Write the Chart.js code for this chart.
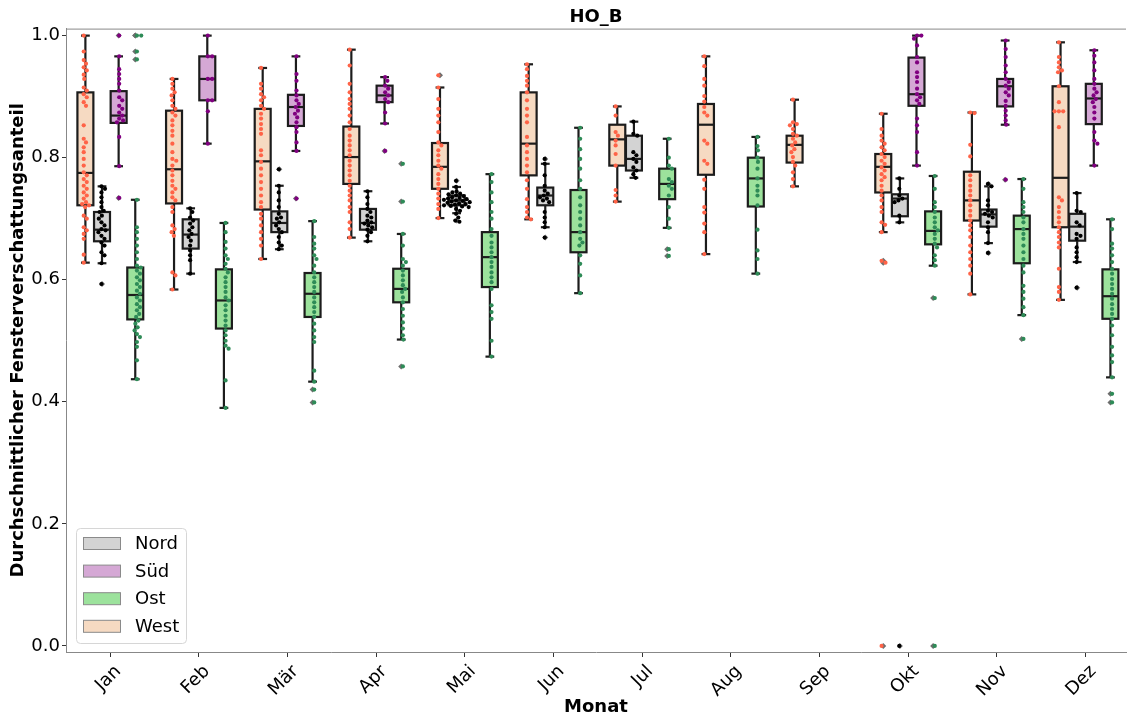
<!DOCTYPE html>
<html lang="de">
<head>
<meta charset="utf-8">
<title>HO_B</title>
<script src="https://cdn.jsdelivr.net/npm/chart.js@4.4.1/dist/chart.umd.min.js"></script>
<style>
  html, body { margin: 0; padding: 0; background: #fff; overflow: hidden; }
</style>
</head>
<body>
<canvas id="grafico" width="1129" height="716"></canvas>
<script>
// Boxplot + Swarm: Fensterverschattung je Monat und Orientierung

const monate = ['Jan', 'Feb', 'Mär', 'Apr', 'Mai', 'Jun', 'Jul', 'Aug', 'Sep', 'Okt', 'Nov', 'Dez'];
const yTicks = [0, 0.2, 0.4, 0.6, 0.8, 1.0];
const legendeReihenfolge = ['Nord', 'Süd', 'Ost', 'West'];

// Boxen: [unterer Whisker, Q1, Median, Q3, oberer Whisker], null = keine Daten
const westBox = [
  [0.628, 0.722, 0.775, 0.907, 1.0], [0.584, 0.725, 0.781, 0.877, 0.929], [0.634, 0.715, 0.794, 0.880, 0.947],
  [0.669, 0.757, 0.801, 0.851, 0.977], [0.701, 0.749, 0.785, 0.824, 0.915], [0.699, 0.771, 0.823, 0.907, 0.953],
  [0.728, 0.787, 0.830, 0.854, 0.884], [0.642, 0.772, 0.854, 0.888, 0.966], [0.753, 0.792, 0.821, 0.836, 0.895],
  [0.678, 0.743, 0.785, 0.806, 0.872], [0.576, 0.697, 0.730, 0.777, 0.874], [0.567, 0.686, 0.767, 0.917, 0.989]
];
const nordBox = [
  [0.627, 0.663, 0.682, 0.711, 0.753], [0.610, 0.651, 0.674, 0.699, 0.717], [0.650, 0.678, 0.693, 0.712, 0.754],
  [0.663, 0.682, 0.693, 0.716, 0.745], [0.709, 0.722, 0.730, 0.738, 0.752], [0.686, 0.722, 0.738, 0.751, 0.790],
  [0.767, 0.779, 0.798, 0.836, 0.859], null, null,
  [0.694, 0.704, 0.733, 0.740, 0.766], [0.660, 0.687, 0.707, 0.715, 0.753], [0.629, 0.664, 0.687, 0.708, 0.742]
];
const suedBox = [
  [0.786, 0.857, 0.869, 0.909, 0.966], [0.823, 0.894, 0.929, 0.966, 1.0], [0.811, 0.852, 0.883, 0.903, 0.966],
  [0.856, 0.891, 0.902, 0.918, 0.932], null, null, null, null, null,
  [0.787, 0.885, 0.904, 0.964, 1.0], [0.854, 0.884, 0.917, 0.929, 0.992], [0.787, 0.855, 0.897, 0.921, 0.976]
];
const ostBox = [
  [0.437, 0.535, 0.575, 0.620, 0.731], [0.390, 0.520, 0.566, 0.617, 0.693], [0.433, 0.539, 0.577, 0.611, 0.696],
  [0.502, 0.563, 0.585, 0.618, 0.675], [0.474, 0.588, 0.637, 0.678, 0.773], [0.578, 0.645, 0.678, 0.747, 0.849],
  [0.685, 0.732, 0.757, 0.782, 0.831], [0.610, 0.720, 0.766, 0.800, 0.834], null,
  [0.623, 0.658, 0.680, 0.712, 0.770], [0.542, 0.627, 0.683, 0.705, 0.765], [0.440, 0.536, 0.573, 0.617, 0.699]
];

// Ausreißer (Fliers) je Monat
const westAus = [[], [], [], [], [0.935], [], [], [], [], [0.631, 0.628, 0.0], [], []];
const nordAus = [[0.593], [], [0.781], [], [0.762, 0.697], [0.798, 0.669], [], [], [], [0.0], [0.757, 0.644], [0.587]];
const suedAus = [[1.0, 0.734], [], [0.733], [0.811], [], [], [], [], [], [], [0.764], []];
const ostAus = [[1.0, 1.0, 0.974, 0.961], [], [0.420, 0.399], [0.790, 0.728, 0.458], [], [], [0.650, 0.639], [], [], [0.570, 0.0], [0.503], [0.413, 0.399]];

// Einzelwerte (Swarm-Punkte) je Monat
const westWerte = [
  [1.0, 0.974, 0.96, 0.954, 0.948, 0.943, 0.936, 0.929, 0.915, 0.91, 0.904, 0.899, 0.891, 0.885, 0.853, 0.831, 0.825, 0.817, 0.809, 0.798, 0.787, 0.776, 0.771, 0.765, 0.76, 0.754, 0.749, 0.743, 0.738, 0.733, 0.727, 0.724, 0.722, 0.719, 0.705, 0.7, 0.686, 0.681, 0.675, 0.667, 0.641, 0.628],
  [0.929, 0.921, 0.913, 0.907, 0.902, 0.894, 0.885, 0.88, 0.874, 0.869, 0.861, 0.853, 0.844, 0.836, 0.823, 0.809, 0.798, 0.795, 0.787, 0.779, 0.771, 0.762, 0.754, 0.749, 0.743, 0.735, 0.73, 0.719, 0.711, 0.689, 0.683, 0.678, 0.672, 0.612, 0.607, 0.584],
  [0.947, 0.921, 0.913, 0.904, 0.899, 0.894, 0.885, 0.88, 0.872, 0.864, 0.855, 0.847, 0.839, 0.812, 0.804, 0.793, 0.782, 0.771, 0.76, 0.749, 0.738, 0.727, 0.719, 0.708, 0.7, 0.689, 0.678, 0.667, 0.656, 0.634],
  [0.977, 0.951, 0.921, 0.907, 0.896, 0.888, 0.88, 0.869, 0.858, 0.847, 0.836, 0.828, 0.82, 0.812, 0.804, 0.795, 0.787, 0.779, 0.771, 0.762, 0.754, 0.746, 0.738, 0.73, 0.719, 0.711, 0.694, 0.683, 0.669],
  [0.935, 0.915, 0.896, 0.88, 0.869, 0.858, 0.842, 0.825, 0.82, 0.812, 0.804, 0.795, 0.787, 0.782, 0.773, 0.765, 0.757, 0.749, 0.741, 0.733, 0.724, 0.716, 0.701],
  [0.953, 0.945, 0.934, 0.926, 0.918, 0.907, 0.894, 0.88, 0.869, 0.858, 0.834, 0.82, 0.809, 0.798, 0.787, 0.776, 0.763, 0.749, 0.732, 0.719, 0.711, 0.702, 0.699],
  [0.884, 0.869, 0.842, 0.836, 0.828, 0.82, 0.806, 0.787, 0.747, 0.738, 0.728],
  [0.966, 0.95, 0.929, 0.918, 0.901, 0.892, 0.883, 0.874, 0.869, 0.828, 0.823, 0.795, 0.79, 0.764, 0.749, 0.719, 0.71, 0.692, 0.678, 0.642],
  [0.895, 0.858, 0.855, 0.853, 0.847, 0.839, 0.836, 0.831, 0.825, 0.82, 0.814, 0.809, 0.801, 0.793, 0.787, 0.776, 0.765, 0.753],
  [0.872, 0.847, 0.836, 0.828, 0.823, 0.817, 0.812, 0.806, 0.801, 0.795, 0.79, 0.784, 0.779, 0.773, 0.768, 0.763, 0.754, 0.746, 0.738, 0.73, 0.719, 0.711, 0.694, 0.69, 0.678, 0.631, 0.628, 0.0],
  [0.874, 0.873, 0.821, 0.802, 0.771, 0.763, 0.754, 0.746, 0.738, 0.73, 0.722, 0.713, 0.705, 0.697, 0.689, 0.681, 0.67, 0.656, 0.645, 0.634, 0.623, 0.61, 0.576],
  [0.989, 0.965, 0.956, 0.948, 0.943, 0.94, 0.917, 0.891, 0.876, 0.876, 0.876, 0.85, 0.735, 0.73, 0.719, 0.711, 0.702, 0.694, 0.686, 0.678, 0.67, 0.661, 0.653, 0.618, 0.588, 0.58, 0.567]
];
const nordWerte = [
  [0.753, 0.749, 0.743, 0.735, 0.727, 0.719, 0.713, 0.711, 0.705, 0.7, 0.694, 0.689, 0.683, 0.681, 0.678, 0.672, 0.667, 0.661, 0.656, 0.645, 0.64, 0.627, 0.593],
  [0.717, 0.711, 0.702, 0.697, 0.692, 0.686, 0.681, 0.675, 0.67, 0.664, 0.656, 0.648, 0.64, 0.632, 0.61],
  [0.781, 0.754, 0.743, 0.73, 0.719, 0.708, 0.702, 0.7, 0.694, 0.689, 0.683, 0.678, 0.67, 0.661, 0.656, 0.65],
  [0.745, 0.735, 0.724, 0.716, 0.711, 0.705, 0.702, 0.697, 0.694, 0.692, 0.689, 0.686, 0.682, 0.678, 0.672, 0.663],
  [0.762, 0.752, 0.745, 0.743, 0.741, 0.74, 0.738, 0.737, 0.735, 0.734, 0.733, 0.732, 0.731, 0.73, 0.729, 0.728, 0.727, 0.726, 0.725, 0.724, 0.723, 0.722, 0.721, 0.72, 0.719, 0.716, 0.713, 0.708, 0.702, 0.697, 0.695],
  [0.798, 0.79, 0.771, 0.754, 0.746, 0.741, 0.738, 0.735, 0.733, 0.73, 0.727, 0.711, 0.702, 0.694, 0.686, 0.669],
  [0.859, 0.839, 0.836, 0.809, 0.804, 0.798, 0.793, 0.784, 0.779, 0.773, 0.767],
  [], [],
  [0.766, 0.749, 0.738, 0.733, 0.73, 0.727, 0.705, 0.694, 0.0],
  [0.757, 0.753, 0.73, 0.722, 0.713, 0.711, 0.708, 0.705, 0.702, 0.694, 0.686, 0.678, 0.66, 0.644],
  [0.742, 0.713, 0.711, 0.694, 0.689, 0.675, 0.672, 0.667, 0.653, 0.645, 0.637, 0.629, 0.587]
];
const suedWerte = [
  [1.0, 0.966, 0.945, 0.937, 0.929, 0.921, 0.91, 0.899, 0.894, 0.885, 0.88, 0.874, 0.869, 0.864, 0.861, 0.858, 0.834, 0.786, 0.734],
  [1.0, 0.966, 0.966, 0.929, 0.929, 0.894, 0.894, 0.876, 0.823],
  [0.966, 0.937, 0.926, 0.91, 0.902, 0.894, 0.888, 0.883, 0.877, 0.872, 0.866, 0.858, 0.85, 0.842, 0.825, 0.811, 0.733],
  [0.932, 0.926, 0.918, 0.913, 0.907, 0.902, 0.896, 0.891, 0.874, 0.856, 0.811],
  [], [], [], [], [],
  [1.0, 1.0, 0.995, 0.984, 0.965, 0.956, 0.94, 0.932, 0.924, 0.913, 0.904, 0.899, 0.894, 0.888, 0.864, 0.853, 0.842, 0.809, 0.787],
  [0.992, 0.978, 0.965, 0.951, 0.94, 0.929, 0.924, 0.918, 0.913, 0.907, 0.902, 0.893, 0.885, 0.877, 0.869, 0.861, 0.854, 0.764],
  [0.976, 0.967, 0.956, 0.943, 0.929, 0.921, 0.913, 0.907, 0.902, 0.896, 0.891, 0.883, 0.874, 0.864, 0.842, 0.828, 0.823, 0.787]
];
const ostWerte = [
  [1.0, 1.0, 0.974, 0.961, 0.731, 0.686, 0.678, 0.667, 0.656, 0.645, 0.634, 0.623, 0.62, 0.615, 0.61, 0.604, 0.599, 0.593, 0.588, 0.582, 0.577, 0.571, 0.566, 0.56, 0.555, 0.55, 0.544, 0.539, 0.533, 0.528, 0.522, 0.517, 0.511, 0.506, 0.498, 0.49, 0.468, 0.437],
  [0.693, 0.678, 0.662, 0.651, 0.64, 0.634, 0.626, 0.618, 0.612, 0.604, 0.596, 0.588, 0.58, 0.571, 0.566, 0.558, 0.55, 0.541, 0.533, 0.525, 0.517, 0.509, 0.5, 0.492, 0.487, 0.435, 0.39],
  [0.696, 0.67, 0.659, 0.651, 0.64, 0.634, 0.623, 0.612, 0.604, 0.596, 0.588, 0.58, 0.571, 0.563, 0.555, 0.547, 0.539, 0.528, 0.517, 0.506, 0.498, 0.451, 0.433, 0.42, 0.399],
  [0.79, 0.728, 0.675, 0.656, 0.634, 0.629, 0.623, 0.615, 0.607, 0.599, 0.591, 0.585, 0.58, 0.571, 0.563, 0.552, 0.541, 0.53, 0.52, 0.509, 0.502, 0.458],
  [0.773, 0.76, 0.743, 0.727, 0.711, 0.7, 0.683, 0.672, 0.661, 0.653, 0.645, 0.637, 0.629, 0.621, 0.612, 0.604, 0.596, 0.585, 0.558, 0.547, 0.536, 0.5, 0.474],
  [0.849, 0.831, 0.814, 0.798, 0.782, 0.763, 0.749, 0.735, 0.722, 0.711, 0.7, 0.689, 0.678, 0.667, 0.661, 0.656, 0.64, 0.626, 0.607, 0.578],
  [0.831, 0.8, 0.787, 0.782, 0.765, 0.76, 0.754, 0.749, 0.738, 0.719, 0.7, 0.685, 0.65, 0.639],
  [0.834, 0.819, 0.812, 0.8, 0.793, 0.782, 0.766, 0.754, 0.746, 0.738, 0.722, 0.682, 0.648, 0.634, 0.61],
  [],
  [0.77, 0.749, 0.727, 0.719, 0.711, 0.702, 0.694, 0.686, 0.681, 0.675, 0.667, 0.659, 0.653, 0.64, 0.632, 0.623, 0.57, 0.0],
  [0.765, 0.749, 0.727, 0.719, 0.711, 0.702, 0.694, 0.683, 0.675, 0.667, 0.656, 0.645, 0.634, 0.623, 0.612, 0.59, 0.58, 0.569, 0.555, 0.542, 0.503],
  [0.699, 0.683, 0.659, 0.651, 0.64, 0.629, 0.618, 0.61, 0.601, 0.593, 0.585, 0.577, 0.569, 0.56, 0.552, 0.544, 0.536, 0.525, 0.509, 0.49, 0.476, 0.465, 0.44, 0.413, 0.399]
];

// Stil je Orientierung (Reihenfolge der Boxen im Monat: West, Nord, Süd, Ost)
const orientierungen = [
  { name: 'West', box: westBox, aus: westAus, werte: westWerte, fuellung: '#f6dac2', punkt: '#ff6347' },
  { name: 'Nord', box: nordBox, aus: nordAus, werte: nordWerte, fuellung: '#d3d3d3', punkt: '#000000' },
  { name: 'Süd', box: suedBox, aus: suedAus, werte: suedWerte, fuellung: '#d5a8d5', punkt: '#800080' },
  { name: 'Ost', box: ostBox, aus: ostAus, werte: ostWerte, fuellung: '#9ce29c', punkt: '#2e8b57' }
];
const boxVersatz = [-0.28125, -0.09375, 0.09375, 0.28125];
const punktVersatz = [-0.3, -0.1, 0.1, 0.3];
const boxBreite = 0.18;
const linie = '#1c1c1c';

Chart.defaults.font.family = "'DejaVu Sans', sans-serif";
Chart.defaults.color = '#000';

// Datensätze: Swarm-Punkte je Orientierung + Ausreißer-Rauten
const datensaetze = orientierungen.map((o, k) => {
  const daten = [];
  o.werte.forEach((liste, i) => liste.forEach(v => daten.push({ x: i + punktVersatz[k], y: v })));
  return {
    label: o.name, data: daten, swarm: true, order: 1,
    backgroundColor: o.punkt, pointRadius: 2.1, pointBorderWidth: 0, pointHoverRadius: 0
  };
});
const fliers = [];
orientierungen.forEach((o, k) => o.aus.forEach((liste, i) => liste.forEach(v => fliers.push({ x: i + boxVersatz[k], y: v }))));
datensaetze.push({
  label: 'Ausreißer', data: fliers, order: 9, pointStyle: 'rectRot',
  backgroundColor: '#6e6e6e', pointRadius: 3, pointBorderWidth: 0, pointHoverRadius: 0
});

// Beeswarm-Anordnung in Pixeln (nur horizontale Verschiebung)
function swarmGruppe(els, d) {
  const sortiert = els.slice().sort((a, b) => a.el.y - b.el.y);
  const gesetzt = [];
  sortiert.forEach(({ el, basis }) => {
    const nah = gesetzt.filter(p => Math.abs(p.y - el.y) < d);
    const kand = [0];
    nah.forEach(p => {
      const dx = Math.sqrt(d * d - (p.y - el.y) ** 2);
      kand.push(p.off + dx, p.off - dx);
    });
    kand.sort((a, b) => Math.abs(a) - Math.abs(b));
    let off = 0;
    for (const c of kand) {
      if (nah.every(p => (p.off - c) ** 2 + (p.y - el.y) ** 2 >= d * d - 0.01)) { off = c; break; }
    }
    gesetzt.push({ off, y: el.y });
    el.x = basis + off;
  });
}

const swarmPlugin = {
  id: 'swarm',
  afterDatasetsUpdate(chart) {
    const xs = chart.scales.x;
    chart.data.datasets.forEach((ds, di) => {
      if (!ds.swarm) return;
      const gruppen = {};
      chart.getDatasetMeta(di).data.forEach((el, j) => {
        const key = ds.data[j].x;
        (gruppen[key] = gruppen[key] || []).push({ el, basis: xs.getPixelForValue(key) });
      });
      Object.values(gruppen).forEach(g => swarmGruppe(g, 4.3));
    });
  }
};

const boxPlugin = {
  id: 'boxen',
  beforeDatasetsDraw(chart) {
    const { ctx, scales: { x, y } } = chart;
    const halb = (x.getPixelForValue(boxBreite) - x.getPixelForValue(0)) / 2;
    const strich = (x1, y1, x2, y2) => { ctx.beginPath(); ctx.moveTo(x1, y1); ctx.lineTo(x2, y2); ctx.stroke(); };
    ctx.save();
    ctx.strokeStyle = linie;
    ctx.lineWidth = 2.2;
    orientierungen.forEach((o, k) => o.box.forEach((s, i) => {
      if (!s) return;
      const cx = x.getPixelForValue(i + boxVersatz[k]);
      const [lo, q1, med, q3, hi] = s.map(v => y.getPixelForValue(v));
      strich(cx, q3, cx, hi);
      strich(cx, q1, cx, lo);
      strich(cx - halb * 0.55, hi, cx + halb * 0.55, hi);
      strich(cx - halb * 0.55, lo, cx + halb * 0.55, lo);
      ctx.fillStyle = o.fuellung;
      ctx.fillRect(cx - halb, q3, 2 * halb, q1 - q3);
      ctx.strokeRect(cx - halb, q3, 2 * halb, q1 - q3);
      strich(cx - halb, med, cx + halb, med);
    }));
    ctx.restore();
  }
};

const rahmenPlugin = {
  id: 'rahmen',
  afterDraw(chart) {
    const { ctx, chartArea: a } = chart;
    ctx.save();
    // obere Achsenlinie
    ctx.strokeStyle = '#888';
    ctx.lineWidth = 1;
    ctx.beginPath(); ctx.moveTo(a.left, a.top + 0.5); ctx.lineTo(a.right, a.top + 0.5); ctx.stroke();
    // Legende unten links
    const lx = a.left + 10, ly = a.bottom - 124;
    ctx.fillStyle = 'rgba(255,255,255,0.8)';
    ctx.strokeStyle = '#d6d6d6';
    ctx.beginPath(); ctx.roundRect(lx + 0.5, ly + 0.5, 110, 115, 4); ctx.fill(); ctx.stroke();
    ctx.font = "18px 'DejaVu Sans'";
    ctx.textBaseline = 'middle';
    legendeReihenfolge.forEach((name, r) => {
      const o = orientierungen.find(e => e.name === name);
      const cy = ly + 15.5 + r * 27.6;
      ctx.fillStyle = o.fuellung;
      ctx.strokeStyle = '#8a8a8a';
      ctx.fillRect(lx + 7.5, cy - 6, 37, 12);
      ctx.strokeRect(lx + 7.5, cy - 6, 37, 12);
      ctx.fillStyle = '#000';
      ctx.fillText(name, lx + 59, cy + 1);
    });
    ctx.restore();
  }
};

new Chart(document.getElementById('grafico'), {
  type: 'scatter',
  data: { datasets: datensaetze },
  options: {
    responsive: false,
    devicePixelRatio: 1,
    animation: false,
    events: [],
    layout: { padding: 0 },
    plugins: {
      legend: { display: false },
      tooltip: { enabled: false },
      title: {
        display: true, text: 'HO_B', fullSize: false, color: '#000',
        font: { size: 18, weight: 'bold' }, padding: { top: 7, bottom: 0 }
      }
    },
    scales: {
      x: {
        type: 'linear', min: -0.5, max: 11.457,
        afterBuildTicks: s => { s.ticks = monate.map((m, i) => ({ value: i })); },
        afterFit: s => { s.height = 64; },
        ticks: {
          callback: v => monate[v], autoSkip: false, minRotation: 45, maxRotation: 45,
          font: { size: 18 }, color: '#000', padding: 4, labelOffset: 8
        },
        grid: { drawOnChartArea: false, drawTicks: true, tickLength: 5, tickColor: '#333' },
        border: { display: true, color: '#888', width: 1 },
        title: { display: true, text: 'Monat', font: { size: 18, weight: 'bold', lineHeight: 1 }, padding: { top: 0, bottom: 0 } }
      },
      y: {
        type: 'linear', min: -0.01, max: 1.0115,
        afterBuildTicks: s => { s.ticks = yTicks.map(v => ({ value: v })); },
        afterFit: s => { s.width = 66; },
        ticks: { callback: v => v.toFixed(1), font: { size: 18 }, color: '#000', padding: 2 },
        grid: { drawOnChartArea: false, drawTicks: true, tickLength: 4, tickColor: '#333' },
        border: { display: true, color: '#888', width: 1 },
        title: { display: true, text: 'Durchschnittlicher Fensterverschattungsanteil', font: { size: 18, weight: 'bold' }, padding: { top: 8, bottom: 0 } }
      }
    }
  },
  plugins: [swarmPlugin, boxPlugin, rahmenPlugin]
});
</script>
</body>
</html>
